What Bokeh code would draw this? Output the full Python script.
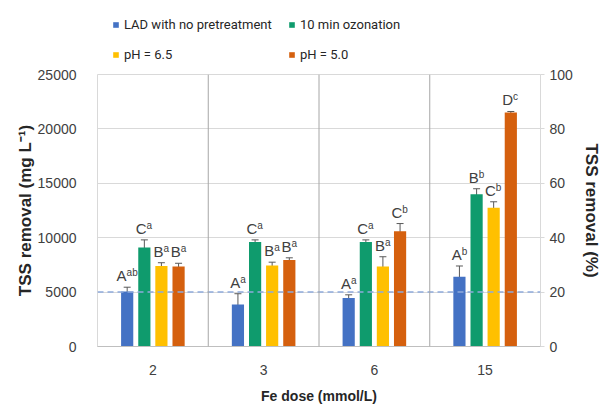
from bokeh.plotting import figure
from bokeh.layouts import column
from bokeh.models import (FactorRange, Range1d, LinearAxis, Span, Whisker, ColumnDataSource,
                          Legend, LegendItem, FixedTicker, TeeHead)
from bokeh.transform import dodge
from bokeh.core.properties import value
from bokeh.embed import file_html
from bokeh.resources import INLINE

# ---- data ----
doses = ["2", "3", "6", "15"]
series_names = ["LAD with no pretreatment", "10 min ozonation", "pH = 6.5", "pH = 5.0"]

lad = [5050, 3850, 4450, 6400]
lad_err = [400, 1000, 300, 1000]
lad_letter = ["A", "A", "A", "A"]
lad_sup = ["ab", "a", "a", "b"]

ozone = [9100, 9600, 9600, 14000]
ozone_err = [700, 200, 200, 500]
ozone_letter = ["C", "C", "C", "B"]
ozone_sup = ["a", "a", "a", "b"]

ph65 = [7400, 7450, 7350, 12750]
ph65_err = [300, 300, 900, 550]
ph65_letter = ["B", "B", "B", "C"]
ph65_sup = ["a", "a", "a", "b"]

ph50 = [7350, 7950, 10600, 21500]
ph50_err = [300, 200, 700, 100]
ph50_letter = ["B", "B", "C", "D"]
ph50_sup = ["a", "a", "b", "c"]

threshold = 5000
left_ticks = [0, 5000, 10000, 15000, 20000, 25000]
right_ticks = [0, 20, 40, 60, 80, 100]

# ---- style ----
colors = ["#4472c4", "#0f9b6d", "#ffc000", "#d5600e"]
offsets = [-0.232, -0.077, 0.077, 0.232]
bar_w = 0.11
FONT = "Liberation Sans"
TXT = "#404040"
LEG_H = 64

# ---- legend strip (separate figure above the chart; frames are aligned by the column) ----
leg = figure(width=603, height=LEG_H, x_range=Range1d(0, 1), y_range=Range1d(0, 1),
             x_axis_type=None, y_axis_type=None, output_backend="svg", toolbar_location=None,
             min_border=0)
leg.outline_line_color = None
leg.xgrid.grid_line_color = None
leg.ygrid.grid_line_color = None
nan = float("nan")
leg_renderers = [leg.vbar(x=[nan], top=[nan], width=0.1, fill_color=c, line_color=None)
                 for c in colors]
order = [0, 2, 1, 3]  # column-major so rows read: LAD | ozone ; pH 6.5 | pH 5.0
legend = Legend(items=[LegendItem(label=series_names[k], renderers=[leg_renderers[k]]) for k in order],
                ncols=2, location=(15, 0),
                glyph_width=7, glyph_height=7, label_height=20, label_width=154, spacing=10,
                label_standoff=5, padding=0, margin=0,
                border_line_color=None, background_fill_alpha=0,
                label_text_font="Roboto", label_text_font_size="13px",
                label_text_color="#262626")
leg.add_layout(legend, "center")

# ---- main chart ----
p = figure(x_range=FactorRange(factors=doses, range_padding=0),
           y_range=Range1d(0, 25000),
           width=603, height=406 - LEG_H, output_backend="svg", toolbar_location=None,
           min_border_left=97, min_border_right=58, min_border_top=74 - LEG_H, min_border_bottom=60)
p.extra_y_ranges = {"pct": Range1d(0, 100)}

all_series = [
    (lad, lad_err, lad_letter, lad_sup),
    (ozone, ozone_err, ozone_letter, ozone_sup),
    (ph65, ph65_err, ph65_letter, ph65_sup),
    (ph50, ph50_err, ph50_letter, ph50_sup),
]

for i, (vals, errs, lets, sups) in enumerate(all_series):
    xb = [(10.0 - 5.6 * len(s)) / 2 for s in sups]
    src = ColumnDataSource(dict(
        x=doses, top=vals,
        upper=[v + e for v, e in zip(vals, errs)],
        lower=[v - e for v, e in zip(vals, errs)],
        letter=lets, sup=sups, xb=xb,
    ))
    xd = dodge("x", offsets[i], range=p.x_range)
    p.vbar(x=xd, top="top", width=bar_w, fill_color=colors[i], line_color=None, source=src)
    w = Whisker(base=xd, upper="upper", lower="lower", source=src,
                line_color="#595959", line_width=1,
                upper_head=TeeHead(size=7, line_color="#595959", line_width=1),
                lower_head=TeeHead(size=7, line_color="#595959", line_width=1))
    p.add_layout(w)
    p.text(x=xd, y="upper", text="letter", x_offset="xb", y_offset=-3,
           text_align="right", text_baseline="bottom", text_font=value(FONT),
           text_font_size="15px", text_color=TXT, source=src)
    p.text(x=xd, y="upper", text="sup", x_offset="xb", y_offset=-9,
           text_align="left", text_baseline="bottom", text_font=value(FONT),
           text_font_size="10px", text_color=TXT, source=src)

# threshold line
p.add_layout(Span(location=threshold, dimension="width", line_color="#8eaadb",
                  line_width=1.5, line_dash="6 4"))
# group separators
for k in range(1, len(doses)):
    p.add_layout(Span(location=k, dimension="height", line_color="#a6a6a6", line_width=1))

# grid / outline
p.xgrid.grid_line_color = None
p.ygrid.grid_line_color = "#d9d9d9"
p.ygrid.ticker = FixedTicker(ticks=left_ticks)
p.outline_line_color = "#d9d9d9"
p.background_fill_color = "white"
p.border_fill_color = "white"

# left axis
ya = p.yaxis[0]
ya.ticker = FixedTicker(ticks=left_ticks)
ya.axis_label = "TSS removal (mg L\u207b\u00b9)"
ya.axis_label_text_font = FONT
ya.axis_label_text_font_style = "bold"
ya.axis_label_text_font_size = "17px"
ya.axis_label_text_color = "#262626"
ya.axis_label_standoff = 0
ya.major_label_text_font = FONT
ya.major_label_text_font_size = "14px"
ya.major_label_text_color = TXT
ya.axis_line_color = None
ya.major_tick_line_color = None
ya.minor_tick_line_color = None
ya.major_label_standoff = 15

# right axis
ra = LinearAxis(y_range_name="pct", ticker=FixedTicker(ticks=right_ticks))
ra.axis_label = "TSS removal (%)"
ra.axis_label_text_font = FONT
ra.axis_label_text_font_style = "bold"
ra.axis_label_text_font_size = "17px"
ra.axis_label_text_color = "#262626"
ra.axis_label_standoff = 6
ra.major_label_text_font = FONT
ra.major_label_text_font_size = "14px"
ra.major_label_text_color = TXT
ra.axis_line_color = None
ra.major_tick_line_color = "#d9d9d9"
ra.major_tick_out = 4
ra.major_tick_in = 0
ra.minor_tick_line_color = None
ra.major_label_standoff = 5
p.add_layout(ra, "right")

# x axis
xa = p.xaxis[0]
xa.axis_label = "Fe dose (mmol/L)"
xa.axis_label_text_font = FONT
xa.axis_label_text_font_style = "bold"
xa.axis_label_text_font_size = "14px"
xa.axis_label_text_color = "#262626"
xa.axis_label_standoff = 10
xa.major_label_text_font = FONT
xa.major_label_text_font_size = "14px"
xa.major_label_text_color = TXT
xa.axis_line_color = "#bfbfbf"
xa.major_tick_line_color = None
xa.minor_tick_line_color = None
xa.major_label_standoff = 12

layout = column(leg, p, spacing=0)
open("out.html", "w").write(file_html(layout, INLINE))
